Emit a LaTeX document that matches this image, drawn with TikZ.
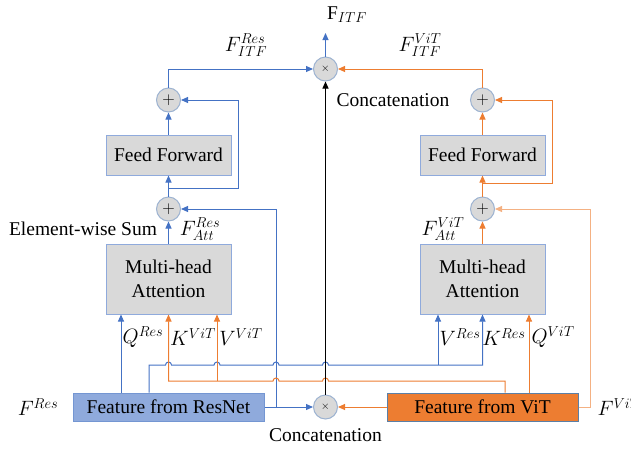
\documentclass[tikz,border=0pt]{standalone}
\usepackage{fontspec}
\setmainfont{Liberation Serif}
\usetikzlibrary{arrows.meta}
\DeclareMathSizes{19.5}{19.5}{14.5}{11}
\definecolor{resblue}{HTML}{4472C4}
\definecolor{vitorange}{HTML}{ED7D31}
\definecolor{vitlight}{HTML}{F4B183}
\definecolor{boxgray}{HTML}{D9D9D9}
\definecolor{boxedge}{HTML}{8FAADC}
\definecolor{circedge}{HTML}{9DB3D1}
\definecolor{resfill}{HTML}{8FAADC}
\definecolor{resedge}{HTML}{7496D2}
\definecolor{vitedge}{HTML}{5B7FA6}

\tikzset{
  blk/.style={draw=boxedge,fill=boxgray,line width=1pt,minimum width=125pt,align=center},
  opnode/.style={circle,draw=circedge,fill=boxgray,line width=1pt,minimum size=24pt,inner sep=0pt},
  bl/.style={draw=resblue,line width=1pt,-{Triangle[length=7pt,width=6pt]}},
  ol/.style={draw=vitorange,line width=1pt,-{Triangle[length=7pt,width=6pt]}},
  lbl/.style={inner sep=0pt}
}

\begin{document}
\begin{tikzpicture}[x=1pt,y=-1pt,font=\fontsize{19.5}{21}\selectfont]
\useasboundingbox (0,0) rectangle (631,448);

% boxes
\node[blk,minimum height=40pt] (ffL) at (168.5,155) {Feed Forward};
\node[blk,minimum height=40pt] (ffR) at (482.5,155) {Feed Forward};
\node[blk,minimum height=70pt] (mhaL) at (168.5,279) {Multi-head\\[3pt]Attention};
\node[blk,minimum height=70pt] (mhaR) at (482.5,279) {Multi-head\\[3pt]Attention};
\node[draw=resedge,fill=resfill,line width=1pt,minimum width=191pt,minimum height=28pt] (resnet) at (168.5,407) {Feature from ResNet};
\node[draw=vitedge,fill=vitorange,line width=1pt,minimum width=191pt,minimum height=28pt] (vit) at (482.5,407) {Feature from ViT};

% sums and concatenations
\node[opnode] (sumLa) at (168.5,100) {\fontsize{16}{16}\selectfont$+$};
\node[opnode] (sumLb) at (168.5,209) {\fontsize{16}{16}\selectfont$+$};
\node[opnode] (sumRa) at (482.5,100) {\fontsize{16}{16}\selectfont$+$};
\node[opnode] (sumRb) at (482.5,209) {\fontsize{16}{16}\selectfont$+$};
\node[opnode] (catTop) at (325.5,69) {\fontsize{11}{11}\selectfont$\times$};
\node[opnode] (catBot) at (325.5,407) {\fontsize{11}{11}\selectfont$\times$};

% lanes
\coordinate (qres) at (121,0);
\coordinate (qvit) at (529,0);
\coordinate (busB) at (149,365);
\coordinate (vres) at (438,365);
\coordinate (busO) at (505,381);
\coordinate (kvit) at (168.5,381);
\coordinate (vvit) at (217,381);
\coordinate (splitL) at (168.5,188);
\coordinate (splitR) at (482.5,183);
\coordinate (loopL) at (276,407);
\coordinate (itf) at (325.5,33);

% ResNet branch
\draw[bl] (resnet.north -| qres) -- (mhaL.south -| qres);
\draw[bl] (busB |- resnet.north) -- (busB) -- (165.5,365)
  arc[start angle=180,end angle=0,radius=3pt] -- (214,365)
  arc[start angle=180,end angle=0,radius=3pt] -- (273,365)
  arc[start angle=180,end angle=0,radius=3pt] -- (322.5,365)
  arc[start angle=180,end angle=0,radius=3pt] -- (vres) -| (mhaR.south);
\draw[bl] (vres) -- (vres |- mhaR.south);
\draw[bl] (mhaL) -- (sumLb);
\draw[bl] (sumLb) -- (ffL);
\draw[bl] (splitL) -- ++(69.5,0) |- (sumLa.east);
\draw[bl] (ffL) -- (sumLa);
\draw[bl] (sumLa.north) |- (catTop.west);
\draw[bl] (resnet.east) -- (catBot.west);
\draw[bl] (loopL) |- (sumLb.east);
\draw[bl] (catTop) -- (itf);

% ViT branch
\draw[ol] (vit.north -| qvit) -- (mhaR.south -| qvit);
\draw[ol] (busO |- vit.north) -- (busO) -- (328.5,381)
  arc[start angle=0,end angle=180,radius=3pt] -- (279,381)
  arc[start angle=0,end angle=180,radius=3pt] -- (kvit) -- (kvit |- mhaL.south);
\draw[ol] (vvit) -- (vvit |- mhaL.south);
\draw[ol] (mhaR) -- (sumRb);
\draw[ol] (sumRb) -- (ffR);
\draw[ol] (splitR) -- ++(69.5,0) |- (sumRa.east);
\draw[ol] (ffR) -- (sumRa);
\draw[ol] (sumRa.north) |- (catTop.east);
\draw[ol] (vit.west) -- (catBot.east);
\draw[ol,draw=vitlight] (vit.east) -- (590,407) |- (sumRb.east);

% concatenated feature
\draw[line width=1pt,-{Triangle[length=7pt,width=6pt]}] (catBot) -- (catTop);

% labels
\node[lbl] (lFitf) at (347,15) {$\mathrm{F}_{ITF}$};
\node[lbl] (lFitfR) at (246,45) {$F^{Res}_{ITF}$};
\node[lbl] (lFitfV) at (420,45) {$F^{ViT}_{ITF}$};
\node[lbl] (lConT) at (393,100) {Concatenation};
\node[lbl] (lConB) at (325.5,435) {Concatenation};
\node[lbl] (lSum) at (83,229) {Element-wise Sum};
\node[lbl] (lAttR) at (200,229) {$F^{Res}_{Att}$};
\node[lbl] (lAttV) at (443,229) {$F^{ViT}_{Att}$};
\node[lbl] (lQr) at (143,337) {$Q^{Res}$};
\node[lbl] (lKv) at (193,337) {$K^{ViT}$};
\node[lbl] (lVv) at (241,337) {$V^{ViT}$};
\node[lbl] (lVr) at (460,337) {$V^{Res}$};
\node[lbl] (lKr) at (504,337) {$K^{Res}$};
\node[lbl] (lQv) at (553,337) {$Q^{ViT}$};
\node[lbl] (lFres) at (38,407) {$F^{Res}$};
\node[lbl] (lFvit) at (619,407) {$F^{ViT}$};
\end{tikzpicture}
\end{document}
